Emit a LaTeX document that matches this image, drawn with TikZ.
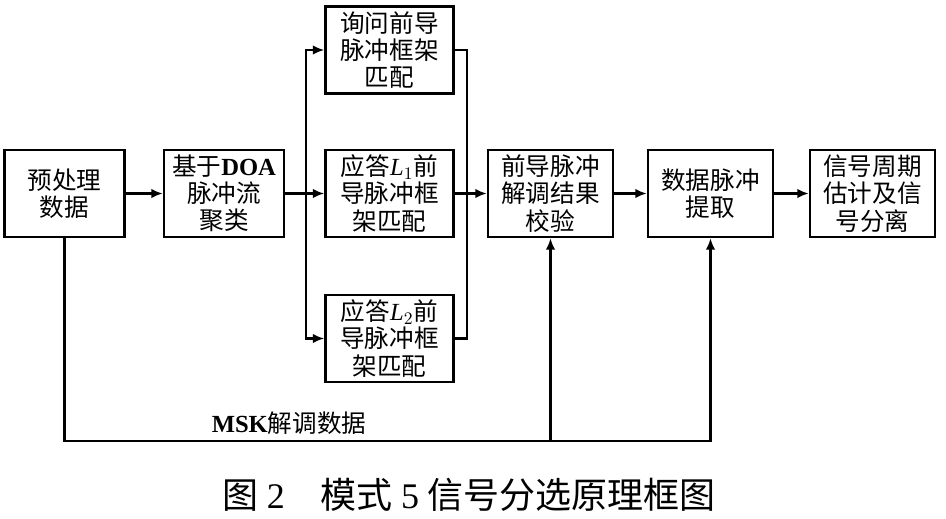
\documentclass[tikz,border=0pt]{standalone}
\usepackage{fontspec}
\setmainfont{Noto Sans CJK SC}
\newfontfamily\latin{Liberation Serif}
\usetikzlibrary{arrows.meta}

\begin{document}
\begin{tikzpicture}[x=0.02cm, y=-0.02cm, line width=1.2pt,
    blk/.style={draw, line width=1.5pt, align=center, minimum width=2.5cm, minimum height=1.74cm,
      inner sep=1pt, font=\fontsize{14}{15.5}\selectfont},
    wide/.style={minimum width=2.56cm},
    arr/.style={-{Latex[length=6.5pt, width=5.5pt]}}]
  \useasboundingbox (0,0) rectangle (946,519);

  % Main chain
  \node[blk, minimum width=2.4cm] (pre) at (64.5,193.5) {预处理\\数据};
  \node[blk, minimum width=2.4cm] (doa) at (224,193.5) {基于{\latin\bfseries DOA}\\脉冲流\\聚类};

  % Matching column
  \node[blk, wide] (ask) at (389.5,50) {询问前导\\脉冲框架\\匹配};
  \node[blk, wide] (ans1) at (389.5,193.5) {应答{\latin\itshape L}$_1$前\\导脉冲框\\架匹配};
  \node[blk, wide] (ans2) at (389.5,338.5) {应答{\latin\itshape L}$_2$前\\导脉冲框\\架匹配};

  \node[blk] (chk) at (550.5,193.5) {前导脉冲\\解调结果\\校验};
  \node[blk] (ext) at (710.5,193.5) {数据脉冲\\提取};
  \node[blk] (sep) at (872.5,193.5) {信号周期\\估计及信\\号分离};

  % Fan out and fan in
  \coordinate (splitL) at (306,193.5);
  \coordinate (joinR) at (467,193.5);
  \draw[arr] (pre.east) -- (doa.west);
  \draw (doa.east) -- (splitL);
  \draw[arr] (splitL) -- (ans1.west);
  \draw[arr] (splitL) |- (ask.west);
  \draw[arr] (splitL) |- (ans2.west);
  \draw (ask.east) -| (joinR);
  \draw (ans2.east) -| (joinR);
  \draw (ans1.east) -- (joinR);
  \draw[arr] (joinR) -- (chk.west);
  \draw[arr] (chk.east) -- (ext.west);
  \draw[arr] (ext.east) -- (sep.west);

  % MSK feedback
  \coordinate (base) at (64.5,441);
  \draw[arr] (pre.south) |- (ext.south |- base) -- (ext.south);
  \draw[arr] (chk.south |- base) -- (chk.south);
  \node[font=\fontsize{14}{15}\selectfont] (msk) at (289,423) {{\latin\bfseries MSK}解调数据};

  % Caption
  \node[font=\fontsize{20.5}{22}\selectfont] (cap) at (469,495)
    {图 {\latin 2}\hspace{1em}模式 {\latin 5} 信号分选原理框图};
\end{tikzpicture}
\end{document}
